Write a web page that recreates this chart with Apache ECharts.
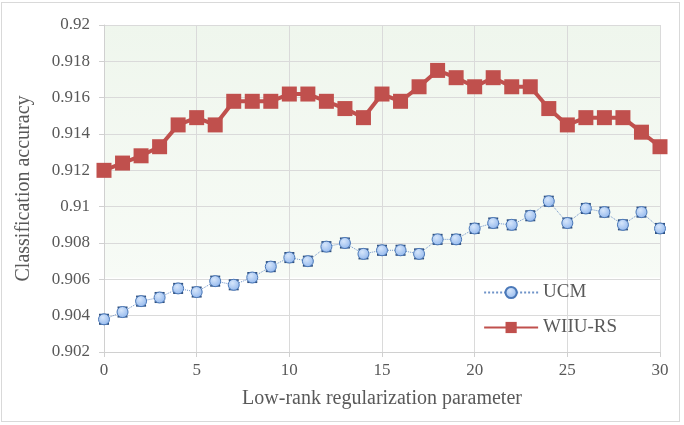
<!DOCTYPE html>
<html>
<head>
<meta charset="utf-8">
<script src="https://cdn.jsdelivr.net/npm/echarts@6/dist/echarts.min.js"></script>
<style>
  html, body { margin: 0; padding: 0; background: #fff; }
  #frame { position: absolute; left: 1px; top: 2px; width: 679px; height: 420px; border: 1px solid #d9d9d9; box-sizing: border-box; }
  #chart { position: absolute; left: 0; top: 0; width: 684px; height: 425px; }
</style>
</head>
<body>
<div id="frame"></div>
<div id="chart"></div>
<script>
// low-rank regularization parameter 0..30
var params = [0,1,2,3,4,5,6,7,8,9,10,11,12,13,14,15,16,17,18,19,20,21,22,23,24,25,26,27,28,29,30]
var ucm = [0.9038,0.9042,0.9048,0.9050,0.9055,0.9053,0.9059,0.9057,0.9061,0.9067,0.9072,0.9070,0.9078,0.9080,0.9074,0.9076,
           0.9076,0.9074,0.9082,0.9082,0.9088,0.9091,0.9090,0.9095,0.9103,0.9091,0.9099,0.9097,0.9090,0.9097,0.9088]
var wiiu = [0.9120,0.9124,0.9128,0.9133,0.9145,0.9149,0.9145,0.9158,0.9158,0.9158,0.9162,0.9162,0.9158,0.9154,0.9149,0.9162,
            0.9158,0.9166,0.9175,0.9171,0.9166,0.9171,0.9166,0.9166,0.9154,0.9145,0.9149,0.9149,0.9149,0.9141,0.9133]
var ucmErr = 0.00025   // small error bar on UCM points

var chart = echarts.init(document.getElementById('chart'))

var font = '"Liberation Serif", "Times New Roman", serif'

var option = {
  animation: false,
  grid: {
    left: 104, right: 24, top: 25, bottom: 73,
    show: true,
    borderWidth: 0,
    backgroundColor: {
      type: 'linear', x: 0, y: 0, x2: 0, y2: 1,
      colorStops: [
        { offset: 0, color: '#eff6ed' },
        { offset: 0.77, color: '#f7fbf6' },
        { offset: 0.775, color: '#ffffff' },
        { offset: 1, color: '#ffffff' }
      ]
    }
  },
  legend: {
    right: 62, top: 278,
    orient: 'vertical',
    itemWidth: 54, itemHeight: 14, itemGap: 16,
    textStyle: { fontFamily: font, fontSize: 19, color: '#595959' },
    data: ['UCM', 'WIIU-RS']
  },
  xAxis: {
    type: 'value', min: 0, max: 30, interval: 5,
    name: 'Low-rank regularization parameter',
    nameLocation: 'middle', nameGap: 37,
    nameTextStyle: { fontFamily: font, fontSize: 20, color: '#595959' },
    axisLine: { lineStyle: { color: '#d0d0d0' } },
    axisTick: { show: true, length: 5, lineStyle: { color: '#d0d0d0' } },
    axisLabel: { fontFamily: font, fontSize: 17, color: '#595959', margin: 10 },
    splitLine: { show: true, lineStyle: { color: '#dadada' } }
  },
  yAxis: {
    type: 'value', min: 0.902, max: 0.92, interval: 0.002,
    name: 'Classification accuracy',
    nameLocation: 'middle', nameGap: 70,
    nameTextStyle: { fontFamily: font, fontSize: 20, color: '#595959' },
    axisLine: { show: true, lineStyle: { color: '#d0d0d0' } },
    axisTick: { show: true, length: 5, lineStyle: { color: '#d0d0d0' } },
    axisLabel: {
      fontFamily: font, fontSize: 17, color: '#595959', margin: 14,
      formatter: function (v) { return String(parseFloat(v.toFixed(3))) }
    },
    splitLine: { show: true, lineStyle: { color: '#dadada' } }
  },
  series: [
    {
      name: 'UCM errbar',
      type: 'custom',
      z: 2,
      silent: true,
      data: params.map(function (p, i) { return [p, ucm[i] - ucmErr, ucm[i] + ucmErr] }),
      renderItem: function (params, api) {
        var lo = api.coord([api.value(0), api.value(1)])
        var hi = api.coord([api.value(0), api.value(2)])
        var w = 5
        var st = { stroke: '#30507e', lineWidth: 2 }
        return {
          type: 'group',
          children: [
            { type: 'line', shape: { x1: hi[0] - w, y1: hi[1], x2: hi[0] + w, y2: hi[1] }, style: st },
            { type: 'line', shape: { x1: lo[0] - w, y1: lo[1], x2: lo[0] + w, y2: lo[1] }, style: st }
          ]
        }
      }
    },
    {
      name: 'UCM',
      type: 'line',
      z: 3,
      data: params.map(function (p, i) { return [p, ucm[i]] }),
      symbol: 'circle', symbolSize: 11,
      lineStyle: { color: '#6f93c8', width: 1, type: 'dotted' },
      itemStyle: {
        color: {
          type: 'radial', x: 0.4, y: 0.35, r: 0.7,
          colorStops: [{ offset: 0, color: '#d6e6fb' }, { offset: 1, color: '#8fb5ec' }]
        },
        borderColor: '#4a78b8', borderWidth: 1
      }
    },
    {
      name: 'WIIU-RS',
      type: 'line',
      z: 4,
      data: params.map(function (p, i) { return [p, wiiu[i]] }),
      symbol: 'rect', symbolSize: 15,
      lineStyle: { color: '#c0504d', width: 4 },
      itemStyle: { color: '#c0504d' }
    }
  ]
}

chart.setOption(option)
</script>
</body>
</html>
